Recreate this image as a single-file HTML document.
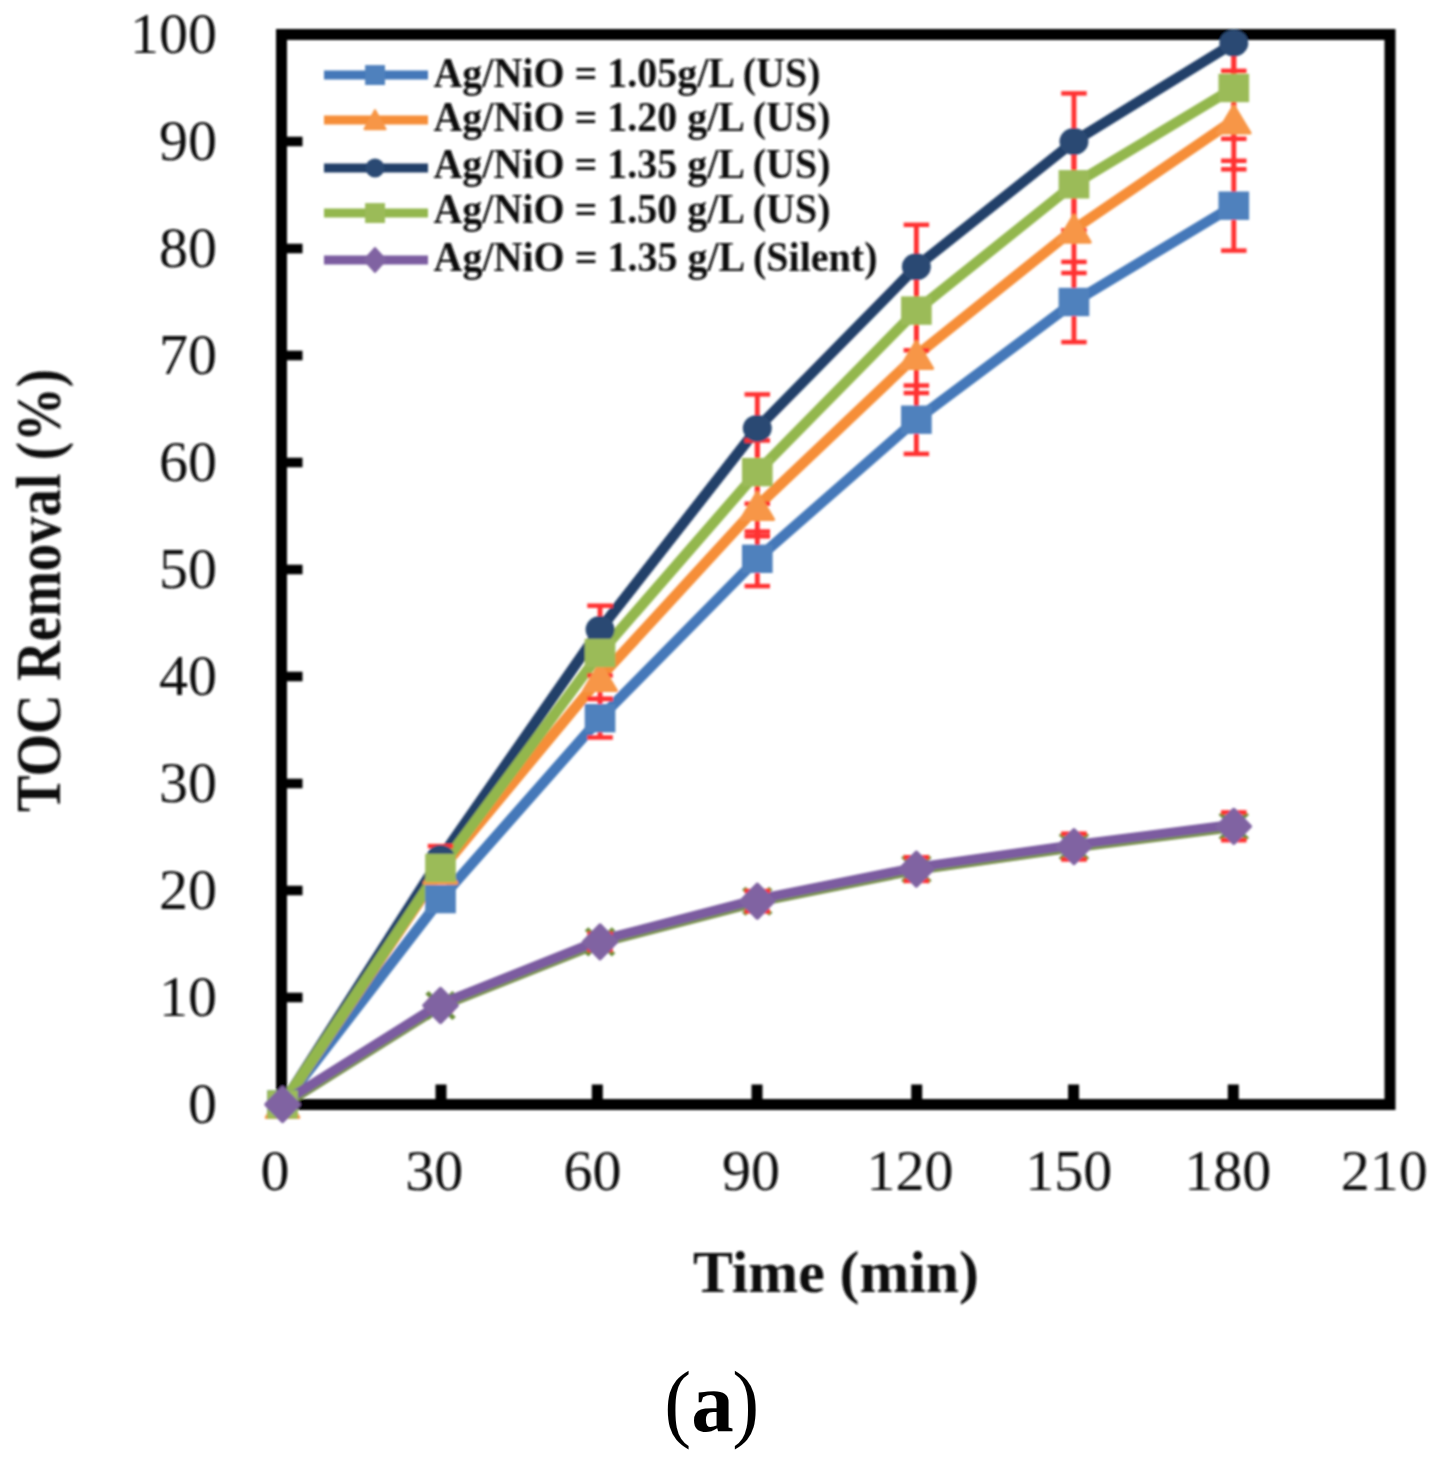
<!DOCTYPE html>
<html><head><meta charset="utf-8"><title>chart</title>
<style>html,body{margin:0;padding:0;background:#fff;}body{width:1452px;height:1457px;overflow:hidden;font-family:"Liberation Serif",serif;}svg{display:block;}text{font-family:"Liberation Serif",serif;fill:#111;}</style></head><body>
<svg width="1452" height="1457" viewBox="0 0 1452 1457">
<defs><filter id="b" x="-5%" y="-5%" width="110%" height="110%"><feGaussianBlur stdDeviation="1.0"/></filter></defs>
<rect width="1452" height="1457" fill="#fff"/>
<g filter="url(#b)">
<rect x="281.5" y="34.5" width="1108.5" height="1070.0" fill="none" stroke="#000" stroke-width="11"/>
<rect x="281.5" y="992.7" width="21" height="9.6" fill="#000"/>
<rect x="281.5" y="885.7" width="21" height="9.6" fill="#000"/>
<rect x="281.5" y="778.7" width="21" height="9.6" fill="#000"/>
<rect x="281.5" y="671.7" width="21" height="9.6" fill="#000"/>
<rect x="281.5" y="564.7" width="21" height="9.6" fill="#000"/>
<rect x="281.5" y="457.7" width="21" height="9.6" fill="#000"/>
<rect x="281.5" y="350.7" width="21" height="9.6" fill="#000"/>
<rect x="281.5" y="243.7" width="21" height="9.6" fill="#000"/>
<rect x="281.5" y="136.7" width="21" height="9.6" fill="#000"/>
<rect x="435.5" y="1084.5" width="11" height="20" fill="#000"/>
<rect x="591.8" y="1084.5" width="11" height="20" fill="#000"/>
<rect x="751.5" y="1084.5" width="11" height="20" fill="#000"/>
<rect x="911.2" y="1084.5" width="11" height="20" fill="#000"/>
<rect x="1068.1" y="1084.5" width="11" height="20" fill="#000"/>
<rect x="1227.8" y="1084.5" width="11" height="20" fill="#000"/>
<g transform="scale(1.08,1)">
<polyline points="261.6,1105.6 407.9,1006.6 555.6,943.0 701.2,902.3 848.5,870.2 994.4,847.7 1142.4,827.4" fill="none" stroke="#7a9150" stroke-width="9.2" stroke-linejoin="round"/>
<path d="M249.1 1091.5L274.1 1117.5M249.1 1117.5L274.1 1091.5" stroke="#6b8e3a" stroke-width="4.5" fill="none"/>
<path d="M395.4 992.5L420.4 1018.5M395.4 1018.5L420.4 992.5" stroke="#6b8e3a" stroke-width="4.5" fill="none"/>
<path d="M543.1 928.9L568.1 954.9M543.1 954.9L568.1 928.9" stroke="#6b8e3a" stroke-width="4.5" fill="none"/>
<path d="M688.7 888.2L713.7 914.2M688.7 914.2L713.7 888.2" stroke="#6b8e3a" stroke-width="4.5" fill="none"/>
<path d="M836.0 856.1L861.0 882.1M836.0 882.1L861.0 856.1" stroke="#6b8e3a" stroke-width="4.5" fill="none"/>
<path d="M981.9 833.6L1006.9 859.6M981.9 859.6L1006.9 833.6" stroke="#6b8e3a" stroke-width="4.5" fill="none"/>
<path d="M1129.9 813.3L1154.9 839.3M1129.9 839.3L1154.9 813.3" stroke="#6b8e3a" stroke-width="4.5" fill="none"/>
<polyline points="261.6,1104.5 407.9,899.1 555.6,718.2 701.2,558.8 848.5,419.7 994.4,302.0 1142.4,205.7" fill="none" stroke="#4478b9" stroke-width="10.1" stroke-linejoin="round"/>
<polyline points="261.6,1104.5 407.9,870.2 555.6,677.6 701.2,506.4 848.5,355.5 994.4,229.2 1142.4,120.1" fill="none" stroke="#f68e38" stroke-width="10.1" stroke-linejoin="round"/>
<polyline points="261.6,1104.5 407.9,858.4 555.6,629.4 701.2,428.3 848.5,266.7 994.4,141.5 1142.4,43.1" fill="none" stroke="#233f69" stroke-width="10.1" stroke-linejoin="round"/>
<polyline points="261.6,1104.5 407.9,868.0 555.6,653.0 701.2,472.1 848.5,310.6 994.4,184.3 1142.4,88.0" fill="none" stroke="#93b74e" stroke-width="10.1" stroke-linejoin="round"/>
<polyline points="261.6,1102.6 407.9,1003.6 555.6,940.0 701.2,899.3 848.5,867.2 994.4,844.7 1142.4,824.4" fill="none" stroke="#7b5ca0" stroke-width="9.2" stroke-linejoin="round"/>
<path d="M407.9 888.8L407.9 909.3" stroke="#ff3030" stroke-width="4.5" fill="none"/><path d="M396.1 888.8L419.7 888.8" stroke="#ff3030" stroke-width="4.5" fill="none"/><path d="M396.1 909.3L419.7 909.3" stroke="#ff3030" stroke-width="4.5" fill="none"/><path d="M555.6 698.9L555.6 737.5" stroke="#ff3030" stroke-width="4.5" fill="none"/><path d="M543.8 698.9L567.4 698.9" stroke="#ff3030" stroke-width="4.5" fill="none"/><path d="M543.8 737.5L567.4 737.5" stroke="#ff3030" stroke-width="4.5" fill="none"/><path d="M701.2 531.5L701.2 586.1" stroke="#ff3030" stroke-width="4.5" fill="none"/><path d="M689.4 531.5L713.0 531.5" stroke="#ff3030" stroke-width="4.5" fill="none"/><path d="M689.4 586.1L713.0 586.1" stroke="#ff3030" stroke-width="4.5" fill="none"/><path d="M848.5 385.5L848.5 453.9" stroke="#ff3030" stroke-width="4.5" fill="none"/><path d="M836.7 385.5L860.3 385.5" stroke="#ff3030" stroke-width="4.5" fill="none"/><path d="M836.7 453.9L860.3 453.9" stroke="#ff3030" stroke-width="4.5" fill="none"/><path d="M994.4 261.9L994.4 342.1" stroke="#ff3030" stroke-width="4.5" fill="none"/><path d="M982.6 261.9L1006.2 261.9" stroke="#ff3030" stroke-width="4.5" fill="none"/><path d="M982.6 342.1L1006.2 342.1" stroke="#ff3030" stroke-width="4.5" fill="none"/><path d="M1142.4 160.8L1142.4 250.6" stroke="#ff3030" stroke-width="4.5" fill="none"/><path d="M1130.6 160.8L1154.2 160.8" stroke="#ff3030" stroke-width="4.5" fill="none"/><path d="M1130.6 250.6L1154.2 250.6" stroke="#ff3030" stroke-width="4.5" fill="none"/>
<path d="M407.9 858.5L407.9 881.9" stroke="#ff3030" stroke-width="4.5" fill="none"/><path d="M396.1 858.5L419.7 858.5" stroke="#ff3030" stroke-width="4.5" fill="none"/><path d="M396.1 881.9L419.7 881.9" stroke="#ff3030" stroke-width="4.5" fill="none"/><path d="M555.6 656.2L555.6 698.9" stroke="#ff3030" stroke-width="4.5" fill="none"/><path d="M543.8 656.2L567.4 656.2" stroke="#ff3030" stroke-width="4.5" fill="none"/><path d="M543.8 698.9L567.4 698.9" stroke="#ff3030" stroke-width="4.5" fill="none"/><path d="M701.2 476.5L701.2 536.3" stroke="#ff3030" stroke-width="4.5" fill="none"/><path d="M689.4 476.5L713.0 476.5" stroke="#ff3030" stroke-width="4.5" fill="none"/><path d="M689.4 536.3L713.0 536.3" stroke="#ff3030" stroke-width="4.5" fill="none"/><path d="M848.5 318.0L848.5 393.0" stroke="#ff3030" stroke-width="4.5" fill="none"/><path d="M836.7 318.0L860.3 318.0" stroke="#ff3030" stroke-width="4.5" fill="none"/><path d="M836.7 393.0L860.3 393.0" stroke="#ff3030" stroke-width="4.5" fill="none"/><path d="M994.4 185.5L994.4 273.0" stroke="#ff3030" stroke-width="4.5" fill="none"/><path d="M982.6 185.5L1006.2 185.5" stroke="#ff3030" stroke-width="4.5" fill="none"/><path d="M982.6 273.0L1006.2 273.0" stroke="#ff3030" stroke-width="4.5" fill="none"/><path d="M1142.4 70.9L1142.4 169.3" stroke="#ff3030" stroke-width="4.5" fill="none"/><path d="M1130.6 70.9L1154.2 70.9" stroke="#ff3030" stroke-width="4.5" fill="none"/><path d="M1130.6 169.3L1154.2 169.3" stroke="#ff3030" stroke-width="4.5" fill="none"/>
<path d="M407.9 846.1L407.9 870.7" stroke="#ff3030" stroke-width="4.5" fill="none"/><path d="M396.1 846.1L419.7 846.1" stroke="#ff3030" stroke-width="4.5" fill="none"/><path d="M396.1 870.7L419.7 870.7" stroke="#ff3030" stroke-width="4.5" fill="none"/><path d="M555.6 605.7L555.6 653.2" stroke="#ff3030" stroke-width="4.5" fill="none"/><path d="M543.8 605.7L567.4 605.7" stroke="#ff3030" stroke-width="4.5" fill="none"/><path d="M543.8 653.2L567.4 653.2" stroke="#ff3030" stroke-width="4.5" fill="none"/><path d="M701.2 394.4L701.2 462.1" stroke="#ff3030" stroke-width="4.5" fill="none"/><path d="M689.4 394.4L713.0 394.4" stroke="#ff3030" stroke-width="4.5" fill="none"/><path d="M689.4 462.1L713.0 462.1" stroke="#ff3030" stroke-width="4.5" fill="none"/><path d="M848.5 224.8L848.5 308.6" stroke="#ff3030" stroke-width="4.5" fill="none"/><path d="M836.7 224.8L860.3 224.8" stroke="#ff3030" stroke-width="4.5" fill="none"/><path d="M836.7 308.6L860.3 308.6" stroke="#ff3030" stroke-width="4.5" fill="none"/><path d="M994.4 93.4L994.4 189.6" stroke="#ff3030" stroke-width="4.5" fill="none"/><path d="M982.6 93.4L1006.2 93.4" stroke="#ff3030" stroke-width="4.5" fill="none"/><path d="M982.6 189.6L1006.2 189.6" stroke="#ff3030" stroke-width="4.5" fill="none"/><path d="M1142.4 40.0L1142.4 96.1" stroke="#ff3030" stroke-width="4.5" fill="none"/><path d="M1130.6 96.1L1154.2 96.1" stroke="#ff3030" stroke-width="4.5" fill="none"/>
<path d="M407.9 856.2L407.9 879.9" stroke="#ff3030" stroke-width="4.5" fill="none"/><path d="M396.1 856.2L419.7 856.2" stroke="#ff3030" stroke-width="4.5" fill="none"/><path d="M396.1 879.9L419.7 879.9" stroke="#ff3030" stroke-width="4.5" fill="none"/><path d="M555.6 630.4L555.6 675.5" stroke="#ff3030" stroke-width="4.5" fill="none"/><path d="M543.8 630.4L567.4 630.4" stroke="#ff3030" stroke-width="4.5" fill="none"/><path d="M543.8 675.5L567.4 675.5" stroke="#ff3030" stroke-width="4.5" fill="none"/><path d="M701.2 440.5L701.2 503.7" stroke="#ff3030" stroke-width="4.5" fill="none"/><path d="M689.4 440.5L713.0 440.5" stroke="#ff3030" stroke-width="4.5" fill="none"/><path d="M689.4 503.7L713.0 503.7" stroke="#ff3030" stroke-width="4.5" fill="none"/><path d="M848.5 270.9L848.5 350.3" stroke="#ff3030" stroke-width="4.5" fill="none"/><path d="M836.7 270.9L860.3 270.9" stroke="#ff3030" stroke-width="4.5" fill="none"/><path d="M836.7 350.3L860.3 350.3" stroke="#ff3030" stroke-width="4.5" fill="none"/><path d="M994.4 138.3L994.4 230.3" stroke="#ff3030" stroke-width="4.5" fill="none"/><path d="M982.6 138.3L1006.2 138.3" stroke="#ff3030" stroke-width="4.5" fill="none"/><path d="M982.6 230.3L1006.2 230.3" stroke="#ff3030" stroke-width="4.5" fill="none"/><path d="M1142.4 40.0L1142.4 138.8" stroke="#ff3030" stroke-width="4.5" fill="none"/><path d="M1130.6 138.8L1154.2 138.8" stroke="#ff3030" stroke-width="4.5" fill="none"/>
<path d="M407.9 1000.6L407.9 1010.5" stroke="#ff3030" stroke-width="4.5" fill="none"/><path d="M396.1 1000.6L419.7 1000.6" stroke="#ff3030" stroke-width="4.5" fill="none"/><path d="M396.1 1010.5L419.7 1010.5" stroke="#ff3030" stroke-width="4.5" fill="none"/><path d="M555.6 933.7L555.6 950.0" stroke="#ff3030" stroke-width="4.5" fill="none"/><path d="M543.8 933.7L567.4 933.7" stroke="#ff3030" stroke-width="4.5" fill="none"/><path d="M543.8 950.0L567.4 950.0" stroke="#ff3030" stroke-width="4.5" fill="none"/><path d="M701.2 891.0L701.2 911.4" stroke="#ff3030" stroke-width="4.5" fill="none"/><path d="M689.4 891.0L713.0 891.0" stroke="#ff3030" stroke-width="4.5" fill="none"/><path d="M689.4 911.4L713.0 911.4" stroke="#ff3030" stroke-width="4.5" fill="none"/><path d="M848.5 857.3L848.5 880.9" stroke="#ff3030" stroke-width="4.5" fill="none"/><path d="M836.7 857.3L860.3 857.3" stroke="#ff3030" stroke-width="4.5" fill="none"/><path d="M836.7 880.9L860.3 880.9" stroke="#ff3030" stroke-width="4.5" fill="none"/><path d="M994.4 833.7L994.4 859.5" stroke="#ff3030" stroke-width="4.5" fill="none"/><path d="M982.6 833.7L1006.2 833.7" stroke="#ff3030" stroke-width="4.5" fill="none"/><path d="M982.6 859.5L1006.2 859.5" stroke="#ff3030" stroke-width="4.5" fill="none"/><path d="M1142.4 812.4L1142.4 840.2" stroke="#ff3030" stroke-width="4.5" fill="none"/><path d="M1130.6 812.4L1154.2 812.4" stroke="#ff3030" stroke-width="4.5" fill="none"/><path d="M1130.6 840.2L1154.2 840.2" stroke="#ff3030" stroke-width="4.5" fill="none"/>
<rect x="247.4" y="1090.3" width="28.4" height="28.4" fill="#4f81bd"/>
<rect x="393.7" y="884.9" width="28.4" height="28.4" fill="#4f81bd"/>
<rect x="541.4" y="704.0" width="28.4" height="28.4" fill="#4f81bd"/>
<rect x="687.0" y="544.6" width="28.4" height="28.4" fill="#4f81bd"/>
<rect x="834.3" y="405.5" width="28.4" height="28.4" fill="#4f81bd"/>
<rect x="980.2" y="287.8" width="28.4" height="28.4" fill="#4f81bd"/>
<rect x="1128.2" y="191.5" width="28.4" height="28.4" fill="#4f81bd"/>
<path d="M261.6 1090.5L276.6 1117.5L246.6 1117.5Z" fill="#f79646" stroke="#f79646" stroke-width="3.0" stroke-linejoin="round"/>
<path d="M407.9 856.2L422.9 883.2L392.9 883.2Z" fill="#f79646" stroke="#f79646" stroke-width="3.0" stroke-linejoin="round"/>
<path d="M555.6 663.6L570.6 690.6L540.6 690.6Z" fill="#f79646" stroke="#f79646" stroke-width="3.0" stroke-linejoin="round"/>
<path d="M701.2 492.4L716.2 519.4L686.2 519.4Z" fill="#f79646" stroke="#f79646" stroke-width="3.0" stroke-linejoin="round"/>
<path d="M848.5 341.5L863.5 368.5L833.5 368.5Z" fill="#f79646" stroke="#f79646" stroke-width="3.0" stroke-linejoin="round"/>
<path d="M994.4 215.2L1009.4 242.2L979.4 242.2Z" fill="#f79646" stroke="#f79646" stroke-width="3.0" stroke-linejoin="round"/>
<path d="M1142.4 106.1L1157.4 133.1L1127.4 133.1Z" fill="#f79646" stroke="#f79646" stroke-width="3.0" stroke-linejoin="round"/>
<circle cx="261.6" cy="1104.5" r="13.4" fill="#2a4a73"/>
<circle cx="407.9" cy="858.4" r="13.4" fill="#2a4a73"/>
<circle cx="555.6" cy="629.4" r="13.4" fill="#2a4a73"/>
<circle cx="701.2" cy="428.3" r="13.4" fill="#2a4a73"/>
<circle cx="848.5" cy="266.7" r="13.4" fill="#2a4a73"/>
<circle cx="994.4" cy="141.5" r="13.4" fill="#2a4a73"/>
<circle cx="1142.4" cy="43.1" r="13.4" fill="#2a4a73"/>
<rect x="247.4" y="1090.3" width="28.4" height="28.4" fill="#9bbb59"/>
<rect x="393.7" y="853.8" width="28.4" height="28.4" fill="#9bbb59"/>
<rect x="541.4" y="638.8" width="28.4" height="28.4" fill="#9bbb59"/>
<rect x="687.0" y="457.9" width="28.4" height="28.4" fill="#9bbb59"/>
<rect x="834.3" y="296.4" width="28.4" height="28.4" fill="#9bbb59"/>
<rect x="980.2" y="170.1" width="28.4" height="28.4" fill="#9bbb59"/>
<rect x="1128.2" y="73.8" width="28.4" height="28.4" fill="#9bbb59"/>
<path d="M261.6 1087.7L276.8 1104.5L261.6 1121.3L246.4 1104.5Z" fill="#8064a2" stroke="#8064a2" stroke-width="3.5" stroke-linejoin="round"/>
<path d="M407.9 988.7L423.1 1005.5L407.9 1022.3L392.7 1005.5Z" fill="#8064a2" stroke="#8064a2" stroke-width="3.5" stroke-linejoin="round"/>
<path d="M555.6 925.1L570.8 941.9L555.6 958.7L540.4 941.9Z" fill="#8064a2" stroke="#8064a2" stroke-width="3.5" stroke-linejoin="round"/>
<path d="M701.2 884.4L716.4 901.2L701.2 918.0L686.0 901.2Z" fill="#8064a2" stroke="#8064a2" stroke-width="3.5" stroke-linejoin="round"/>
<path d="M848.5 852.3L863.7 869.1L848.5 885.9L833.3 869.1Z" fill="#8064a2" stroke="#8064a2" stroke-width="3.5" stroke-linejoin="round"/>
<path d="M994.4 829.8L1009.6 846.6L994.4 863.4L979.2 846.6Z" fill="#8064a2" stroke="#8064a2" stroke-width="3.5" stroke-linejoin="round"/>
<path d="M1142.4 809.5L1157.6 826.3L1142.4 843.1L1127.2 826.3Z" fill="#8064a2" stroke="#8064a2" stroke-width="3.5" stroke-linejoin="round"/>
</g>
<path d="M324 75L428 75" stroke="#4478b9" stroke-width="9" fill="none"/>
<rect x="365.1" y="65.1" width="19.9" height="19.9" fill="#4f81bd"/>
<text x="433.5" y="86.8" font-size="43" font-weight="bold" textLength="387" lengthAdjust="spacingAndGlyphs">Ag/NiO = 1.05g/L (US)</text>
<path d="M324 120L428 120" stroke="#f68e38" stroke-width="9" fill="none"/>
<path d="M375.0 110.2L385.5 129.1L364.5 129.1Z" fill="#f79646" stroke="#f79646" stroke-width="2.1" stroke-linejoin="round"/>
<text x="433.5" y="130.8" font-size="43" font-weight="bold" textLength="397" lengthAdjust="spacingAndGlyphs">Ag/NiO = 1.20 g/L (US)</text>
<path d="M324 168L428 168" stroke="#233f69" stroke-width="9" fill="none"/>
<circle cx="375.0" cy="168.0" r="9.4" fill="#2a4a73"/>
<text x="433.5" y="178.3" font-size="43" font-weight="bold" textLength="397" lengthAdjust="spacingAndGlyphs">Ag/NiO = 1.35 g/L (US)</text>
<path d="M324 213L428 213" stroke="#93b74e" stroke-width="9" fill="none"/>
<rect x="365.1" y="203.1" width="19.9" height="19.9" fill="#9bbb59"/>
<text x="433.5" y="223.2" font-size="43" font-weight="bold" textLength="397" lengthAdjust="spacingAndGlyphs">Ag/NiO = 1.50 g/L (US)</text>
<path d="M324 260L428 260" stroke="#7b5ca0" stroke-width="9" fill="none"/>
<path d="M375.0 248.2L385.6 260.0L375.0 271.8L364.4 260.0Z" fill="#8064a2" stroke="#8064a2" stroke-width="2.4" stroke-linejoin="round"/>
<text x="433.5" y="271.2" font-size="43" font-weight="bold" textLength="444" lengthAdjust="spacingAndGlyphs">Ag/NiO = 1.35 g/L (Silent)</text>
<text x="217" y="1122.8" font-size="58" text-anchor="end">0</text>
<text x="217" y="1015.8" font-size="58" text-anchor="end">10</text>
<text x="217" y="908.8" font-size="58" text-anchor="end">20</text>
<text x="217" y="801.8" font-size="58" text-anchor="end">30</text>
<text x="217" y="694.8" font-size="58" text-anchor="end">40</text>
<text x="217" y="587.8" font-size="58" text-anchor="end">50</text>
<text x="217" y="480.8" font-size="58" text-anchor="end">60</text>
<text x="217" y="373.8" font-size="58" text-anchor="end">70</text>
<text x="217" y="266.8" font-size="58" text-anchor="end">80</text>
<text x="217" y="159.8" font-size="58" text-anchor="end">90</text>
<text x="217" y="52.8" font-size="58" text-anchor="end">100</text>
<text x="275.0" y="1189.5" font-size="58" text-anchor="middle">0</text>
<text x="434.2" y="1189.5" font-size="58" text-anchor="middle">30</text>
<text x="592.6" y="1189.5" font-size="58" text-anchor="middle">60</text>
<text x="751.1" y="1189.5" font-size="58" text-anchor="middle">90</text>
<text x="910.1" y="1189.5" font-size="58" text-anchor="middle">120</text>
<text x="1068.8" y="1189.5" font-size="58" text-anchor="middle">150</text>
<text x="1227.7" y="1189.5" font-size="58" text-anchor="middle">180</text>
<text x="1384.3" y="1189.5" font-size="58" text-anchor="middle">210</text>
<text x="693" y="1292" font-size="60" font-weight="bold" textLength="286" lengthAdjust="spacingAndGlyphs">Time (min)</text>
<text transform="translate(60,812) rotate(-90)" font-size="64" font-weight="bold" textLength="443" lengthAdjust="spacingAndGlyphs">TOC Removal (%)</text>
</g>
<g style="fill:#000">
<text transform="translate(664.2,1431) scale(0.93,1)" font-size="87" style="fill:#000">(</text>
<text x="691.2" y="1431" font-size="85" font-weight="bold" style="fill:#000">a</text>
<text transform="translate(732.2,1431) scale(0.93,1)" font-size="87" style="fill:#000">)</text>
</g></svg></body></html>
